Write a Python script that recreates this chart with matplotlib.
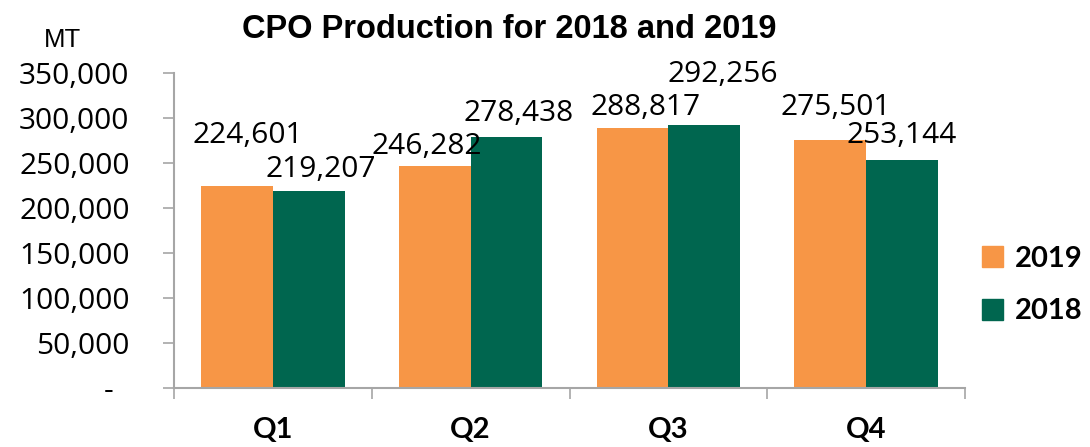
import numpy as np
import matplotlib
matplotlib.use("Agg")
import matplotlib.pyplot as plt
from matplotlib.patches import Patch


quarters = ["Q1", "Q2", "Q3", "Q4"]
prod_2019 = [224601, 246282, 288817, 275501]
prod_2018 = [219207, 278438, 292256, 253144]
y_ticks = [0, 50000, 100000, 150000, 200000, 250000, 300000, 350000]

ORANGE = "#F79646"
GREEN = "#00664F"
AXIS_GREY = "#A6A6A6"

# label nudges (pixels) -- the source chart has them placed by hand
off_2019 = [(11, 50), (-8, 20), (13, 21), (6, 33)]
off_2018 = [(12, 21), (12, 24), (19, 50), (0, 25)]

fig = plt.figure(figsize=(10.9, 4.47), dpi=100)
ax = fig.add_axes([174 / 1090, 59 / 447, 791 / 1090, 315 / 447])

x = np.arange(len(quarters))
w = 0.363
b19 = ax.bar(x - w / 2, prod_2019, w, color=ORANGE, label="2019")
b18 = ax.bar(x + w / 2, prod_2018, w, color=GREEN, label="2018")

lab_font = dict(family="Open Sans", size=21.5, color="black")
for bars, vals, offs in [(b19, prod_2019, off_2019), (b18, prod_2018, off_2018)]:
    for rect, v, (dx, dy) in zip(bars, vals, offs):
        ax.annotate(f"{v:,}", (rect.get_x() + rect.get_width() / 2, v),
                    xytext=(dx, dy), textcoords="offset pixels",
                    ha="center", va="center", **lab_font)

ax.set_xlim(-0.5, len(quarters) - 0.5)
ax.set_ylim(0, 350000)

ax.set_yticks(y_ticks)
ax.set_yticklabels(["-  " if t == 0 else f"{t:,}" for t in y_ticks],
                   fontfamily="Open Sans", fontsize=21.5)
ax.tick_params(axis="y", direction="out", length=8, width=1.2,
               color=AXIS_GREY, pad=24)

ax.set_xticks(x)
ax.set_xticklabels(quarters, fontfamily="Lato", fontweight="bold",
                   fontsize=21)
ax.set_xticks(np.arange(-0.5, len(quarters)), minor=True)
ax.tick_params(axis="x", which="major", length=0, pad=21)
ax.tick_params(axis="x", which="minor", direction="out", length=8,
               width=1.2, color=AXIS_GREY)

for s in ["top", "right"]:
    ax.spines[s].set_visible(False)
for s in ["left", "bottom"]:
    ax.spines[s].set_color(AXIS_GREY)
    ax.spines[s].set_linewidth(1.5)

fig.text(0.467, 0.935, "CPO Production for 2018 and 2019",
         family="Liberation Sans", weight="bold", size=23.5,
         ha="center", va="center")
fig.text(0.057, 0.91, "MT", family="Liberation Sans", size=18.5,
         ha="center", va="center")

handles = [Patch(color=ORANGE), Patch(color=GREEN)]
fig.legend(handles, ["2019", "2018"], loc="center left",
           bbox_to_anchor=(982 / 1090, 0.362), frameon=False,
           prop=dict(family="Lato", weight="bold", size=21),
           borderpad=0, borderaxespad=0,
           handlelength=0.72, handleheight=0.72, handletextpad=0.4,
           labelspacing=0.9)

fig.savefig("out.png", dpi=100)
